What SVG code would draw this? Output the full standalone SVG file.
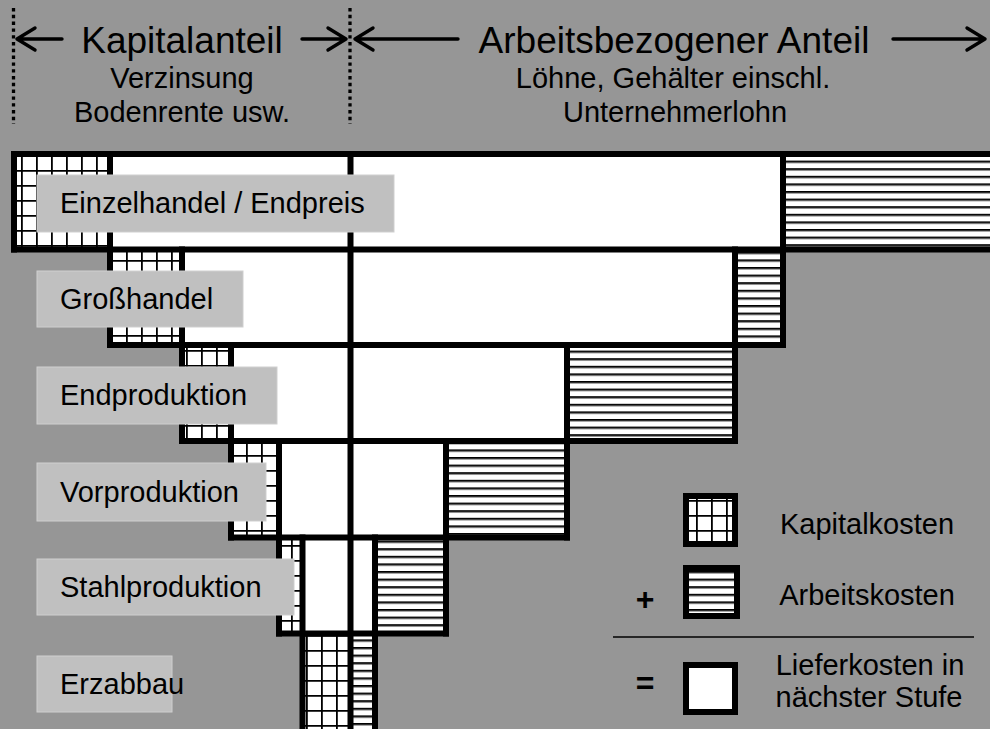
<svg xmlns="http://www.w3.org/2000/svg" width="990" height="729" viewBox="0 0 990 729">
<defs>
<pattern id="grid" width="15" height="15" x="6" y="5" patternUnits="userSpaceOnUse">
<rect width="15" height="15" fill="#fff"/>
<path d="M0 0.9H15M0.9 0V15" stroke="#000" stroke-width="1.8"/>
</pattern>
<pattern id="hlines" width="20" height="7.6" y="1" patternUnits="userSpaceOnUse">
<rect width="20" height="7.6" fill="#fff"/>
<rect y="0" width="20" height="1.8" fill="#000"/>
<rect y="1.8" width="20" height="0.9" fill="#888"/>
</pattern>
</defs>
<style>
text{font-family:"Liberation Sans",Arial,Helvetica,sans-serif;fill:#000}
.h{font-size:37px;text-anchor:middle}
.s{font-size:29px;text-anchor:middle}
.lbl{font-size:29px}
.lbox{fill:#c0c0c0;stroke:#cfcfcf;stroke-width:1}
.b{stroke:#000;stroke-width:6;stroke-linecap:square;fill:none}
.dot{stroke:#000;stroke-width:3.3;stroke-dasharray:3.4 3.4;fill:none}
.arr{stroke:#000;stroke-width:3.4;fill:none;stroke-linecap:round;stroke-linejoin:round}
.kap{fill:url(#grid)}
.arb{fill:url(#hlines)}
.w{fill:#fff}
</style>
<rect width="990" height="729" fill="#969696"/>

<g id="header">
<line class="dot" x1="13.5" y1="8" x2="13.5" y2="124"/>
<line class="dot" x1="350" y1="8" x2="350" y2="124"/>
<path class="arr" d="M62 39H17M35 28L17 39L35 50"/>
<path class="arr" d="M302 39H346M328 28L346 39L328 50"/>
<path class="arr" d="M458 39H355M373 28L355 39L373 50"/>
<path class="arr" d="M893 39H985M967 28L985 39L967 50"/>
<text class="h" x="182" y="53">Kapitalanteil</text>
<text class="s" x="182" y="88">Verzinsung</text>
<text class="s" x="182" y="122">Bodenrente usw.</text>
<text class="h" x="674" y="53">Arbeitsbezogener Anteil</text>
<text class="s" x="673" y="88">Löhne, Gehälter einschl.</text>
<text class="s" x="675" y="122">Unternehmerlohn</text>
</g>

<g id="fills">
<rect class="kap" x="14" y="154" width="96" height="95.5"/>
<rect class="w" x="110" y="154" width="673" height="95.5"/>
<rect class="arb" x="783" y="154" width="215" height="95.5"/>

<rect class="kap" x="110" y="249.5" width="72" height="95.5"/>
<rect class="w" x="182" y="249.5" width="553" height="95.5"/>
<rect class="arb" x="735" y="249.5" width="48" height="95.5"/>

<rect class="kap" x="182" y="345" width="49" height="96"/>
<rect class="w" x="231" y="345" width="336" height="96"/>
<rect class="arb" x="567" y="345" width="168" height="96"/>

<rect class="kap" x="231" y="441" width="48" height="96.5"/>
<rect class="w" x="279" y="441" width="167" height="96.5"/>
<rect class="arb" x="446" y="441" width="121" height="96.5"/>

<rect class="kap" x="279" y="537.5" width="23.5" height="96"/>
<rect class="w" x="302.5" y="537.5" width="72.5" height="96"/>
<rect class="arb" x="375" y="537.5" width="71" height="96"/>

<rect class="kap" x="302.5" y="633.5" width="48" height="110"/>
<rect class="arb" x="350.5" y="633.5" width="24.5" height="110"/>
</g>

<g id="connectors">
<path class="b" d="M14 154H1000M14 249.5H1000M110 345H783M182 441H735M231 537.5H567M279 633.5H446"/>
<path class="b" d="M14 154V249.5M110 154V345M182 249.5V441M231 345V537.5M279 441V633.5M302.5 537.5V740M350.5 154V740M375 537.5V740M446 441V633.5M567 345V537.5M735 249.5V441M783 154V345"/>
</g>

<g id="einzelhandel">
<rect class="lbox" x="37" y="175" width="357" height="57"/>
<text class="lbl" x="60" y="213">Einzelhandel / Endpreis</text>
</g>
<g id="grosshandel">
<rect class="lbox" x="37" y="271" width="206" height="56"/>
<text class="lbl" x="60" y="309">Großhandel</text>
</g>
<g id="endproduktion">
<rect class="lbox" x="37" y="367" width="240" height="57"/>
<text class="lbl" x="60" y="405">Endproduktion</text>
</g>
<g id="vorproduktion">
<rect class="lbox" x="37" y="463" width="229" height="58"/>
<text class="lbl" x="60" y="502">Vorproduktion</text>
</g>
<g id="stahlproduktion">
<rect class="lbox" x="37" y="559" width="257" height="56"/>
<text class="lbl" x="60" y="597">Stahlproduktion</text>
</g>
<g id="erzabbau">
<rect class="lbox" x="37" y="656" width="135" height="56"/>
<text class="lbl" x="60" y="694">Erzabbau</text>
</g>

<g id="legend">
<rect x="686" y="496" width="49" height="48" fill="url(#grid)" stroke="#000" stroke-width="6"/>
<text class="s" x="867" y="534">Kapitalkosten</text>
<text x="645" y="610" style="font-size:32px;font-weight:bold;text-anchor:middle">+</text>
<rect x="686" y="568" width="51" height="48" fill="url(#hlines)" stroke="#000" stroke-width="6"/>
<text class="s" x="867" y="605">Arbeitskosten</text>
<line x1="613" y1="637" x2="974" y2="637" stroke="#000" stroke-width="1.5"/>
<text x="645" y="694" style="font-size:32px;font-weight:bold;text-anchor:middle">=</text>
<rect x="686" y="665" width="49" height="47" fill="#fff" stroke="#000" stroke-width="6"/>
<text class="s" x="870" y="675">Lieferkosten in</text>
<text class="s" x="869" y="707">nächster Stufe</text>
</g>
</svg>
